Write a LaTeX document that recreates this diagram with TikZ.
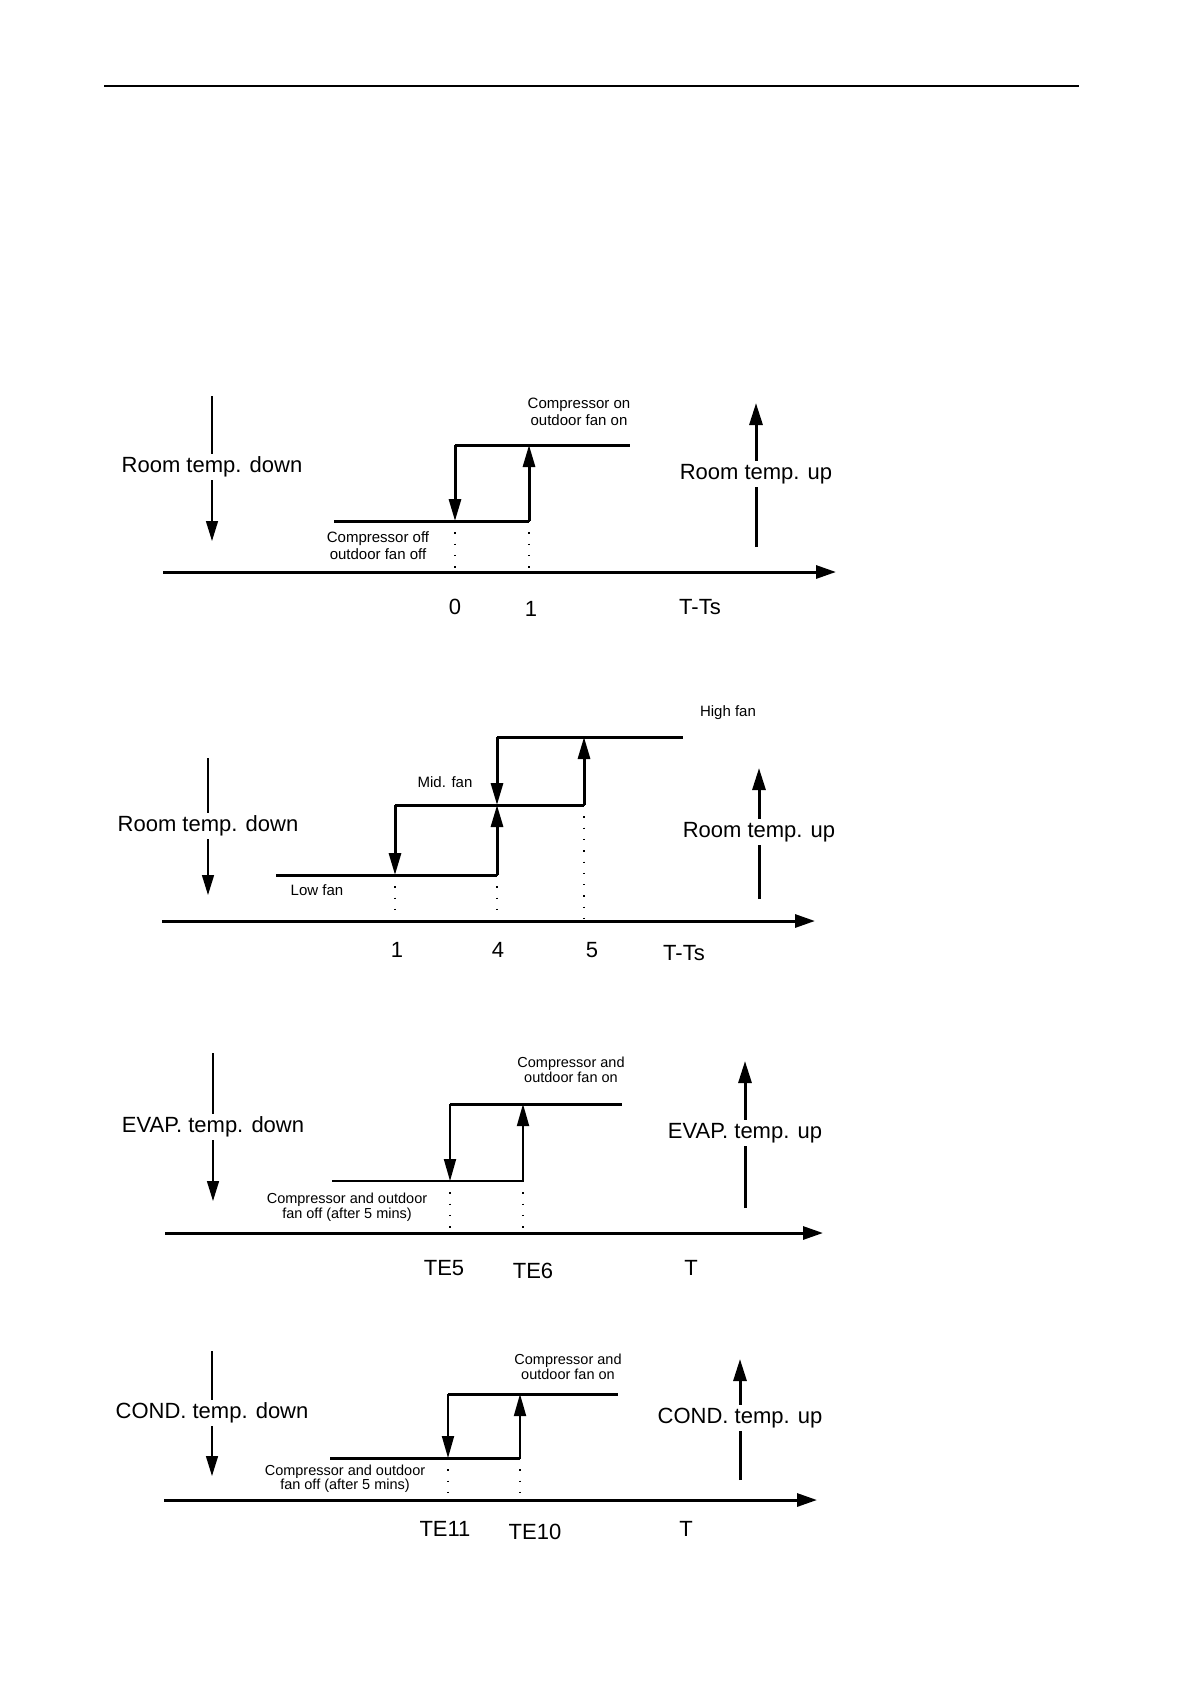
\documentclass[tikz,border=0pt]{standalone}
\usepackage{fontspec}
\setmainfont{Liberation Sans}
\usetikzlibrary{arrows.meta}
\begin{document}
\begin{tikzpicture}[x=1pt,y=-1pt,
 big/.style={font=\fontsize{22}{26}\selectfont, inner sep=1pt},
 lbl/.style={big, fill=white, inner sep=3pt},
 small/.style={font=\fontsize{15}{17}\selectfont, align=center, inner sep=0pt},
 tiny/.style={font=\fontsize{14.5}{15}\selectfont, align=center, inner sep=0pt},
 stepline/.style={line width=3pt},
 axisarrow/.style={line width=3pt, -{Triangle[length=20pt,width=13pt]}},
 downarr/.style={line width=1.5pt, -{Triangle[length=20pt,width=12pt]}},
 uparr/.style={line width=3pt, -{Triangle[length=22pt,width=13pt]}},
 jump/.style={line width=3pt, -{Triangle[length=22pt,width=12pt]}},
 dots/.style={line width=1.3pt, dash pattern=on 1.3pt off 10pt}
]
\useasboundingbox (0,0) rectangle (1190,1684);
% top rule
\coordinate (r1) at (104,86); \coordinate (r2) at (1079,86);
\draw[line width=1.8pt] (r1) -- (r2);

% ===== Diagram 1 =====
\coordinate (a1s) at (163,572); \coordinate (a1e) at (836,572);
\draw[axisarrow] (a1s) -- (a1e);
\coordinate (d1t) at (212,396); \coordinate (d1b) at (212,541);
\draw[downarr] (d1t) -- (d1b);
\node[lbl] (d1l) at (212,467) {Room temp. down};
\coordinate (u1b) at (756,547); \coordinate (u1t) at (756,403);
\draw[uparr] (u1b) -- (u1t);
\node[lbl] (u1l) at (756,474) {Room temp. up};
\coordinate (l1a) at (334,521); \coordinate (l1b) at (529,521);
\coordinate (h1a) at (455,445); \coordinate (h1b) at (630,445);
\coordinate (j1t) at (455,445); \coordinate (j1b) at (455,521);
\coordinate (k1b) at (529,521); \coordinate (k1t) at (529,445);
\draw[stepline] (l1a) -- (l1b);
\draw[stepline] (h1a) -- (h1b);
\draw[jump] (j1t) -- (j1b);
\draw[jump] (k1b) -- (k1t);
\coordinate (p1a) at (455,572); \coordinate (p1b) at (529,572);
\draw[dots] (j1b) -- (p1a);
\draw[dots] (k1b) -- (p1b);
\node[small] (c1on) at (579,411.5) {Compressor on\\outdoor fan on};
\node[small] (c1off) at (378,545.5) {Compressor off\\outdoor fan off};
\node[big] (n10) at (455,607) {0};
\node[big] (n11) at (531,609) {1};
\node[big] (n1t) at (700,607) {T-Ts};

% ===== Diagram 2 =====
\coordinate (a2s) at (162,921); \coordinate (a2e) at (815,921);
\draw[axisarrow] (a2s) -- (a2e);
\coordinate (d2t) at (208,758); \coordinate (d2b) at (208,895);
\draw[downarr] (d2t) -- (d2b);
\node[lbl] (d2l) at (208,826) {Room temp. down};
\coordinate (u2b) at (759,899); \coordinate (u2t) at (759,768);
\draw[uparr] (u2b) -- (u2t);
\node[lbl] (u2l) at (759,832) {Room temp. up};
\coordinate (l2a) at (276,875); \coordinate (l2b) at (497,875);
\coordinate (m2a) at (395,805); \coordinate (m2b) at (584,805);
\coordinate (h2a) at (497,737); \coordinate (h2b) at (683,737);
\draw[stepline] (l2a) -- (l2b);
\draw[stepline] (m2a) -- (m2b);
\draw[stepline] (h2a) -- (h2b);
\coordinate (x1) at (395,875); \coordinate (x2) at (497,805); \coordinate (x3) at (584,737);
\draw[jump] (m2a) -- (x1);
\draw[jump] (h2a) -- (x2);
\draw[jump] (l2b) -- (x2);
\draw[jump] (m2b) -- (x3);
\coordinate (p2a) at (395,921); \coordinate (p2b) at (497,921); \coordinate (p2c) at (584,921);
\draw[dots] (x1) -- (p2a);
\draw[dots] (l2b) -- (p2b);
\draw[dots] (m2b) -- (p2c);
\node[small] (hf) at (728,713) {High fan};
\node[small] (mf) at (445,782) {Mid. fan};
\node[small] (lf) at (317,890) {Low fan};
\node[big] (n21) at (397,950) {1};
\node[big] (n24) at (498,950) {4};
\node[big] (n25) at (592,950) {5};
\node[big] (n2t) at (684,953) {T-Ts};

% ===== Diagram 3 =====
\coordinate (a3s) at (165,1233); \coordinate (a3e) at (823,1233);
\draw[axisarrow] (a3s) -- (a3e);
\coordinate (d3t) at (213,1053); \coordinate (d3b) at (213,1201);
\draw[downarr] (d3t) -- (d3b);
\node[lbl] (d3l) at (213,1127) {EVAP. temp. down};
\coordinate (u3b) at (745,1208); \coordinate (u3t) at (745,1061);
\draw[uparr] (u3b) -- (u3t);
\node[lbl] (u3l) at (745,1133) {EVAP. temp. up};
\coordinate (l3a) at (332,1181); \coordinate (l3b) at (523,1181);
\coordinate (h3a) at (450,1104); \coordinate (h3b) at (622,1104);
\coordinate (j3b) at (450,1181); \coordinate (k3t) at (523,1104);
\draw[line width=1.5pt] (l3a) -- (l3b);
\draw[stepline] (h3a) -- (h3b);
\draw[jump, line width=1.8pt] (h3a) -- (j3b);
\draw[jump, line width=1.8pt] (l3b) -- (k3t);
\coordinate (p3a) at (450,1233); \coordinate (p3b) at (523,1233);
\draw[dots] (j3b) -- (p3a);
\draw[dots] (l3b) -- (p3b);
\node[tiny] (c3on) at (571,1069.5) {Compressor and\\outdoor fan on};
\node[tiny] (c3off) at (347,1207.5) {Compressor and outdoor\\fan off (after 5 mins)};
\node[big] (n3a) at (444,1268) {TE5};
\node[big] (n3b) at (533,1271) {TE6};
\node[big] (n3t) at (691,1268) {T};

% ===== Diagram 4 =====
\coordinate (a4s) at (164,1500); \coordinate (a4e) at (817,1500);
\draw[axisarrow] (a4s) -- (a4e);
\coordinate (d4t) at (212,1351); \coordinate (d4b) at (212,1476);
\draw[downarr] (d4t) -- (d4b);
\node[lbl] (d4l) at (212,1413) {COND. temp. down};
\coordinate (u4b) at (740,1480); \coordinate (u4t) at (740,1359);
\draw[uparr] (u4b) -- (u4t);
\node[lbl] (u4l) at (740,1418) {COND. temp. up};
\coordinate (l4a) at (330,1458); \coordinate (l4b) at (520,1458);
\coordinate (h4a) at (448,1394); \coordinate (h4b) at (618,1394);
\coordinate (j4b) at (448,1458); \coordinate (k4t) at (520,1394);
\draw[stepline] (l4a) -- (l4b);
\draw[stepline] (h4a) -- (h4b);
\draw[jump, line width=1.8pt] (h4a) -- (j4b);
\draw[jump, line width=1.8pt] (l4b) -- (k4t);
\coordinate (p4a) at (448,1500); \coordinate (p4b) at (520,1500);
\draw[dots] (j4b) -- (p4a);
\draw[dots] (l4b) -- (p4b);
\node[tiny] (c4on) at (568,1366.5) {Compressor and\\outdoor fan on};
\node[tiny, font=\fontsize{14.5}{14}\selectfont] (c4off) at (345,1479) {Compressor and outdoor\\fan off (after 5 mins)};
\node[big] (n4a) at (445,1529) {TE11};
\node[big] (n4b) at (535,1532) {TE10};
\node[big] (n4t) at (686,1529) {T};
\end{tikzpicture}
\end{document}
